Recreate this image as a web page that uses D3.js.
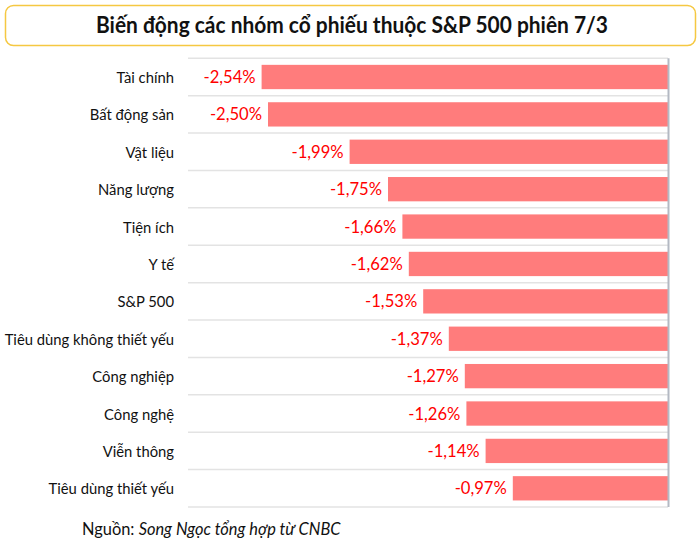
<!DOCTYPE html>
<html><head><meta charset="utf-8">
<script src="https://cdn.jsdelivr.net/npm/d3@7"></script>
<style>html,body{margin:0;padding:0;background:#fff;}svg{display:block;}</style>
</head><body>
<script>
const categories = ["Tài chính","Bất động sản","Vật liệu","Năng lượng","Tiện ích","Y tế","S&P 500","Tiêu dùng không thiết yếu","Công nghiệp","Công nghệ","Viễn thông","Tiêu dùng thiết yếu"];
const values = [-2.54,-2.50,-1.99,-1.75,-1.66,-1.62,-1.53,-1.37,-1.27,-1.26,-1.14,-0.97];
const title = "Biến động các nhóm cổ phiếu thuộc S&P 500 phiên 7/3";
const sourceLabel = "Nguồn: ";
const sourceText = "Song Ngọc tổng hợp từ CNBC";

const W = 700, H = 546;
const svg = d3.select("body").append("svg").attr("width", W).attr("height", H);
const font = "Lato, 'Open Sans', sans-serif";

// title box
svg.append("rect").attr("x",5.5).attr("y",5.5).attr("width",690).attr("height",40).attr("rx",8)
  .attr("fill","#fff").attr("stroke","#f5c842").attr("stroke-width",1.5);
svg.append("text").attr("x",96).attr("y",33)
  .attr("textLength",512).attr("lengthAdjust","spacingAndGlyphs")
  .attr("font-family",font).attr("font-weight",700).attr("font-size",22).attr("fill","#111")
  .text(title);

const data = categories.map((c,i)=>({c, v: values[i]}));
const plotTop = 58.3, plotBottom = 507;
const y = d3.scaleBand().domain(categories).range([plotTop,plotBottom]).paddingInner(0.35).paddingOuter(0.175);
const x = d3.scaleLinear().domain([0,3]).range([668,188]);
const step = y.step();

// gridlines
const gl = d3.range(categories.length+1).map(i => plotTop + i*step);
svg.selectAll("line.grid").data(gl).enter().append("line")
  .attr("x1",188).attr("x2",668).attr("y1",d=>d).attr("y2",d=>d)
  .attr("stroke","#e3e3e3").attr("stroke-width",1.5);

// bars
svg.selectAll("rect.bar").data(data).enter().append("rect")
  .attr("x",d=>x(Math.abs(d.v))).attr("y",d=>y(d.c))
  .attr("width",d=>x(0)-x(Math.abs(d.v))).attr("height",y.bandwidth())
  .attr("fill","#ff7c7c");

// right axis
svg.append("line").attr("x1",668.5).attr("x2",668.5).attr("y1",plotTop).attr("y2",plotBottom)
  .attr("stroke","#b4b9c3").attr("stroke-width",2);

// value labels
const fmt = v => d3.format(".2f")(v).replace("−","-").replace(".",",") + "%";
svg.selectAll("text.val").data(data).enter().append("text")
  .attr("x",d=>x(Math.abs(d.v))-6).attr("y",d=>y(d.c)+y.bandwidth()/2)
  .attr("text-anchor","end").attr("dominant-baseline","central")
  .attr("font-family",font).attr("font-size",16.6).attr("fill","#ff0000")
  .text(d=>fmt(d.v));

// category labels
svg.selectAll("text.cat").data(data).enter().append("text")
  .attr("x",174).attr("y",d=>y(d.c)+y.bandwidth()/2)
  .attr("text-anchor","end").attr("dominant-baseline","central")
  .attr("font-family",font).attr("font-size",14.8).attr("fill","#111")
  .text(d=>d.c);

// source
const src = svg.append("text").attr("x",82).attr("y",528).attr("dominant-baseline","central")
  .attr("font-family",font).attr("font-size",16.4).attr("fill","#111");
src.append("tspan").text(sourceLabel);
src.append("tspan").attr("font-style","italic").text(sourceText);
</script>
</body></html>
